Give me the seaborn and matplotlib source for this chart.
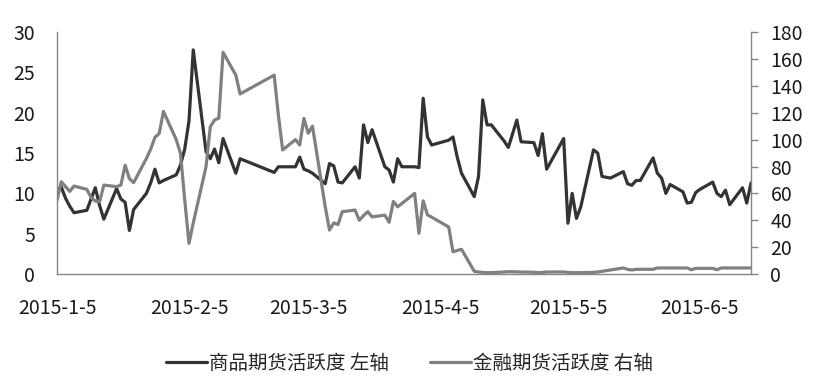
import pandas as pd
import matplotlib.pyplot as plt
from matplotlib.lines import Line2D
import seaborn as sns

# trading days 2015-01-05 .. 2015-06-17 (Spring Festival, Qingming, Labour Day closed)
holidays = ["2015-02-18", "2015-02-19", "2015-02-20", "2015-02-23", "2015-02-24",
            "2015-04-06", "2015-05-01"]
days = pd.bdate_range("2015-01-05", "2015-06-17").drop(pd.to_datetime(holidays))

# commodity futures activity (left axis)
jan_c = [10.4, 10.8, 9.4, 8.4, 7.6, 7.9, 9.3, 10.7, 8.5, 6.8, 10.6, 9.3, 8.9, 5.4, 8.0, 10.0, 11.3, 13.0, 11.3, 11.6]
feb_c = [12.3, 13.5, 15.5, 19.0, 27.8, 15.2, 14.3, 15.5, 13.8, 16.8, 12.5, 14.3, 12.6, 13.3, 13.3]
mar_c = [13.3, 14.5, 13.0, 12.8, 12.5, 11.2, 13.7, 13.4, 11.4, 11.3, 13.3, 11.9, 18.5, 16.3, 17.9, 13.3, 12.9, 11.4,
         14.3, 13.3, 13.3, 13.2]
apr_c = [21.8, 17.0, 16.0, 16.6, 17.0, 14.5, 12.5, 9.6, 12.1, 21.6, 18.5, 18.5, 16.5, 15.7, 17.4, 19.1, 16.4, 16.3,
         14.7, 17.4, 13.0]
may_c = [16.8, 6.3, 10.0, 6.9, 8.3, 15.4, 15.0, 12.1, 12.0, 11.9, 12.7, 11.2, 11.0, 11.6, 11.6, 14.4, 12.5, 11.9, 10.0, 11.1]
jun_c = [10.2, 8.8, 8.9, 10.1, 10.5, 11.4, 10.0, 9.6, 10.4, 8.6, 10.7, 8.8, 11.3]

# financial futures activity (right axis)
jan_f = [55, 68.7, 65, 61.5, 65.5, 63, 57, 54.3, 53.8, 66.2, 65, 66.2, 81, 71, 68, 86, 93, 101.7, 104.5, 121]
feb_f = [100, 89.8, 55, 22.8, 38, 79.8, 109.6, 114.6, 116, 165, 148, 134, 148, 118, 92.3]
mar_f = [100, 96, 115.8, 104.7, 110, 50, 32.7, 38, 36.8, 46.4, 47.6, 40, 43.5, 46.4, 42.5, 43.8, 38.5, 54, 50, 52.5,
         60, 30.3]
apr_f = [54.5, 44, 42.3, 35, 16.6, 17.5, 18.4, 2.0, 1.5, 1.2, 1.0, 1.0, 1.5, 1.7, 1.7, 1.6, 1.5, 1.3, 1.0, 1.2, 1.5]
may_f = [1.5, 1.2, 1.0, 1.0, 1.0, 1.2, 1.5, 2.0, 2.5, 3.0, 4.5, 3.5, 3.0, 3.5, 3.5, 3.5, 4.5, 4.5, 4.5, 4.5]
jun_f = [4.5, 4.5, 3.2, 4.2, 4.2, 4.2, 3.2, 4.5, 4.5, 4.5, 4.5, 4.5, 4.5]

tick_dates = ["2015-1-5", "2015-2-5", "2015-3-5", "2015-4-5", "2015-5-5", "2015-6-5"]
labels = ["商品期货活跃度 左轴", "金融期货活跃度 右轴"]

df = pd.DataFrame({
    "date": days,
    "commodity": jan_c + feb_c + mar_c + apr_c + may_c + jun_c,
    "financial": jan_f + feb_f + mar_f + apr_f + may_f + jun_f,
})

sns.set_style("white")
plt.rcParams["font.family"] = ["Noto Sans CJK SC", "DejaVu Sans"]

dark = "#333333"
grey = "#808080"
axis_col = "#868686"

fig = plt.figure(figsize=(8.19, 3.92), dpi=100)
ax = fig.add_axes([0.0696, 0.301, 0.8474, 0.617])
ax2 = ax.twinx()

sns.lineplot(data=df, x="date", y="commodity", ax=ax, color=dark, linewidth=2.3)
sns.lineplot(data=df, x="date", y="financial", ax=ax2, color=grey, linewidth=2.3)

ax.set_xlim(df["date"].iloc[0], df["date"].iloc[-1])
ax.set_ylim(0, 30)
ax.set_yticks(range(0, 31, 5))
ax2.set_ylim(0, 180)
ax2.set_yticks(range(0, 181, 20))

ax.set_xticks(pd.to_datetime(tick_dates))
ax.set_xticklabels(tick_dates)

ax.set_xlabel("")
ax.set_ylabel("")
ax2.set_ylabel("")

ax.tick_params(axis="x", length=0, pad=17, labelsize=14, colors="#1a1a1a")
ax.tick_params(axis="y", length=0, pad=16, labelsize=14, colors="#1a1a1a")
ax2.tick_params(axis="y", length=5, width=1, pad=9, labelsize=14, labelcolor="#1a1a1a", color=axis_col)

for a in (ax, ax2):
    a.spines["top"].set_visible(False)
    for s in ("left", "bottom", "right"):
        a.spines[s].set_color(axis_col)
        a.spines[s].set_linewidth(1)
ax.spines["right"].set_visible(False)
ax2.spines["left"].set_visible(False)
ax2.spines["bottom"].set_visible(False)

handles = [Line2D([], [], color=dark, linewidth=2.3), Line2D([], [], color=grey, linewidth=2.3)]
fig.legend(handles, labels, loc="center", bbox_to_anchor=(0.5, 0.072), ncol=2, frameon=False,
           fontsize=14, handlelength=2.1, handletextpad=0.12, columnspacing=2.1)

fig.savefig("out.png", dpi=100)
